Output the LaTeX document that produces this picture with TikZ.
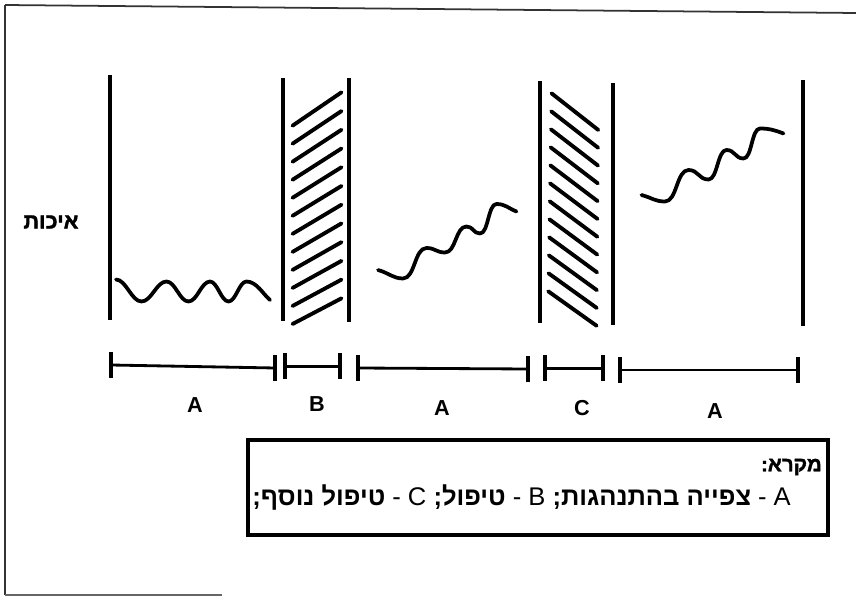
\documentclass[tikz,border=0pt]{standalone}
\usepackage{fontspec}
\setmainfont{Liberation Sans}
\newfontfamily\hebfont{Liberation Sans}[Script=Hebrew]
\newfontfamily\hebbold{Liberation Sans Bold}[Script=Hebrew]
\newfontfamily\hebheavy{Liberation Sans Bold}[Script=Hebrew, FakeBold=1.6]
\TeXXeTstate=1
\begin{document}
\begin{tikzpicture}[x=0.03cm,y=-0.03cm,
  frameline/.style={line width=1.5pt, black!80},
  vline/.style={line width=3.5pt},
  hatch/.style={line width=3.3pt, line cap=round},
  wave/.style={line width=3.2pt, line cap=round, line join=round},
  barline/.style={line width=2.4pt},
  tickline/.style={line width=3.3pt},
  lab/.style={font=\fontsize{18.5}{20}\selectfont\bfseries, inner sep=0pt},
  legbox/.style={line width=3.4pt}]
\useasboundingbox (0,0) rectangle (856,597);
% outer frame (partly visible)
\draw[frameline] (5,5) -- (856,13);
\draw[frameline] (5,5) -- (5,595);
\draw[frameline, black!60] (5,595) -- (222,595);
% vertical phase lines
\draw[vline] (110,75) -- (110,320);
\draw[vline] (283,78) -- (283,321);
\draw[vline] (349,78) -- (349,322);
\draw[vline] (540,81) -- (540,323);
\draw[vline] (613,83) -- (613,325);
\draw[vline] (803,80) -- (803,326);
% hatching B
\foreach \i in {0,...,11}
  \draw[hatch] (292.5,125.7+18.03*\i) -- (341.5,92.3+18.73*\i);
% hatching C
\foreach \i in {0,...,11}
  \draw[hatch] (551.5-0.3*\i,93.3+18.0*\i) -- (598.3-0.15*\i,130+17.8*\i);
% wave 1
\draw[wave] (116,279.5)
  .. controls +(10,0) and +(-10,0) .. (141.5,301.5)
  .. controls +(10,0) and +(-10,0) .. (166.5,281.5)
  .. controls +(8.8,0) and +(-8.8,0) .. (188.5,301.5)
  .. controls +(8.6,0) and +(-8.6,0) .. (210,281.5)
  .. controls +(7.4,0) and +(-7.4,0) .. (228.5,301.5)
  .. controls +(7.4,0) and +(-7.4,0) .. (246.5,281.5)
  .. controls +(10,0) and +(-7,-6) .. (270,300);
% wave 2
\draw[wave] (378,270)
  .. controls +(11,3) and +(-10,0) .. (403,278.5)
  .. controls +(12,0) and +(-12,0) .. (426.5,248)
  .. controls +(9,0) and +(-9,0) .. (445,252.5)
  .. controls +(11,0) and +(-11,0) .. (466.5,226.5)
  .. controls +(7,0) and +(-7,0) .. (480,233.5)
  .. controls +(8.5,0) and +(-8.5,0) .. (496.5,204)
  .. controls +(9,0) and +(-8,-3) .. (516.5,211.5);
% wave 3
\draw[wave] (641.5,195)
  .. controls +(11,3) and +(-10,0) .. (665,201.5)
  .. controls +(12,0) and +(-12,0) .. (688.5,170)
  .. controls +(10,0) and +(-10,0) .. (708.5,179.5)
  .. controls +(9,0) and +(-9,0) .. (726.5,150)
  .. controls +(8.5,0) and +(-8.5,0) .. (743.5,158.5)
  .. controls +(8.5,0) and +(-8.5,0) .. (760,128.5)
  .. controls +(10,0) and +(-8,-3) .. (783.5,133.5);
% time line segments
\coordinate (a1l) at (111,365);   \coordinate (a1r) at (275,368);
\coordinate (bl)  at (285,366.5); \coordinate (br)  at (340,366.5);
\coordinate (a2l) at (358,368);   \coordinate (a2r) at (528,369);
\coordinate (cl)  at (545,368.5); \coordinate (cr)  at (603,368.5);
\coordinate (a3l) at (620,370);   \coordinate (a3r) at (798,370);
\foreach \s/\e in {a1l/a1r, bl/br, a2l/a2r, cl/cr, a3l/a3r}{
  \draw[barline] (\s) -- (\e);
  \draw[tickline] ([yshift=13*0.03cm]\s) -- ([yshift=-13*0.03cm]\s);
  \draw[tickline] ([yshift=13*0.03cm]\e) -- ([yshift=-13*0.03cm]\e);
}
% segment labels
\node[lab] (la1) at (195,405) {A};
\node[lab] (lb)  at (317,404) {B};
\node[lab] (la2) at (442,408) {A};
\node[lab] (lc)  at (582,408) {C};
\node[lab] (la3) at (715,411) {A};
% y-axis label
\node[inner sep=0pt] (quality) at (51,222)
  {\hebheavy\fontsize{18.5}{20}\selectfont\beginR איכות\endR};
% legend
\draw[legbox] (248,440) rectangle (828,535);
\node[anchor=east, inner sep=0pt] (legtitle) at (822,467)
  {\hebheavy\fontsize{17.5}{20}\selectfont\beginR מקרא:\endR};
\node[anchor=east, inner sep=0pt] (legtext) at (791,498)
  {\hebfont\fontsize{21.8}{24}\selectfont\beginR A - {\hebbold צפייה בהתנהגות;} B - {\hebbold טיפול;} C - {\hebbold טיפול נוסף;}\endR};
\end{tikzpicture}
\end{document}
